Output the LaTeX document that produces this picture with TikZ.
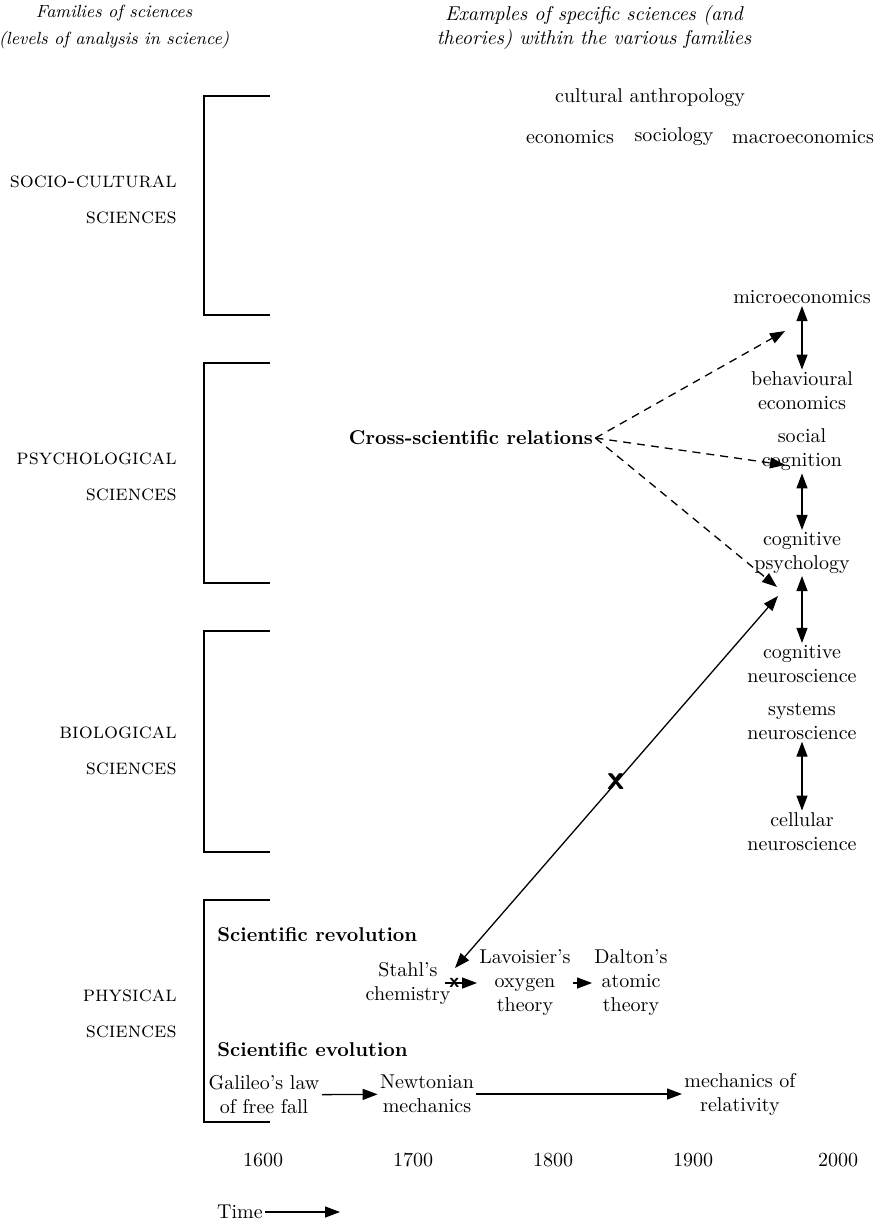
\documentclass[tikz,border=0pt]{standalone}
\usetikzlibrary{arrows.meta}
\begin{document}
\begin{tikzpicture}[x=0.5pt,y=-0.5pt,
  lbl/.style={align=center,inner sep=1pt},
  famname/.style={anchor=east,align=right,inner sep=0pt,font=\fontsize{11}{13}\selectfont},
  head/.style={align=center,font=\itshape},
  arr/.style={-{Triangle[length=7.5pt,width=5.5pt]},line width=0.65pt},
  dbl/.style={{Triangle[length=7.5pt,width=5.5pt]}-{Triangle[length=7.5pt,width=5.5pt]},line width=0.65pt},
  rel/.style={arr,dash pattern=on 4pt off 3pt},
  xmark/.style={font=\sffamily\bfseries\LARGE,inner sep=0pt},
  bracket/.style={line width=0.6pt}]
\useasboundingbox (0,0) rectangle (880,1228);

% headings
\node[head,font=\itshape\fontsize{8.8}{13.5}\selectfont] (hfam) at (114,27) {Families of sciences\\(levels of analysis in science)};
\node[head] (hex) at (594,27) {Examples of specific sciences (and\\theories) within the various families};

% families
\foreach \t/\b in {96/315, 363/583, 631/852, 900/1122}
  \draw[bracket] (270,\t) -- (204,\t) -- (204,\b) -- (270,\b);
\node[famname] (fsoc) at (177,200) {\textsc{socio-cultural}\\[5pt]\textsc{sciences}};
\node[famname] (fpsy) at (177,477) {\textsc{psychological}\\[5pt]\textsc{sciences}};
\node[famname] (fbio) at (177,751) {\textsc{biological}\\[5pt]\textsc{sciences}};
\node[famname] (fphy) at (177,1014) {\textsc{physical}\\[5pt]\textsc{sciences}};

% specific sciences
\node[lbl] (anthro) at (650,98) {cultural anthropology};
\node[lbl] (econ) at (570,137) {economics};
\node[lbl] (sociol) at (674,137) {sociology};
\node[lbl] (macro) at (803,137) {macroeconomics};
\node[lbl] (micro) at (802,297) {microeconomics};
\node[lbl] (behav) at (802,391) {behavioural\\economics};
\node[lbl] (soccog) at (802,450) {social\\cognition};
\node[lbl] (cogpsy) at (802,553) {cognitive\\psychology};
\node[lbl] (cogneuro) at (802,664) {cognitive\\neuroscience};
\node[lbl] (sysneuro) at (802,721) {systems\\neuroscience};
\node[lbl] (cellneuro) at (802,832) {cellular\\neuroscience};

\draw[dbl] (micro) -- (behav);
\draw[dbl] (soccog) -- (cogpsy);
\draw[dbl] (cogpsy) -- (cogneuro);
\draw[dbl] (sysneuro) -- (cellneuro);

% cross-scientific relations
\node[lbl,font=\bfseries] (crossrel) at (471,438) {Cross-scientific relations};
\coordinate (tmicro) at (785,331);
\coordinate (tsoc) at (785,465);
\coordinate (tpsy) at (777,587);
\draw[rel] (crossrel.east) -- (tmicro);
\draw[rel] (crossrel.east) -- (tsoc);
\draw[rel] (crossrel.east) -- (tpsy);

% revolution
\node[anchor=west,font=\bfseries,inner sep=0pt] (revol) at (217,935) {Scientific revolution};
\node[lbl] (stahl) at (408,983) {Stahl's\\chemistry};
\node[lbl] (lavo) at (525,983) {Lavoisier's\\oxygen\\theory};
\node[lbl] (dalton) at (631,983) {Dalton's\\atomic\\theory};
\draw[arr] ([xshift=-4pt]stahl.east) -- node[pos=0.3,xmark,font=\sffamily\bfseries] (xsmall) {x} (lavo.west);
\draw[arr] (lavo) -- (dalton);
\coordinate (tneuro) at (778,596);
\coordinate (tstahl) at (455,968);
\draw[dbl] (tneuro) -- node[pos=0.5,xmark] (xbig) {x} (tstahl);

% evolution
\node[anchor=west,font=\bfseries,inner sep=0pt] (evol) at (217,1050) {Scientific evolution};
\node[lbl] (galileo) at (264,1095) {Galileo's law\\of free fall};
\node[lbl] (newton) at (427,1094) {Newtonian\\mechanics};
\node[lbl] (relat) at (740,1094) {mechanics of\\relativity};
\draw[arr] (galileo) -- (newton);
\draw[arr] (newton) -- (relat);

% time axis
\node (y1600) at (263,1160) {1600};
\node (y1700) at (413,1160) {1700};
\node (y1800) at (553,1160) {1800};
\node (y1900) at (693,1160) {1900};
\node (y2000) at (838,1160) {2000};
\node[inner sep=1pt] (time) at (240,1212) {Time};
\coordinate (tend) at (340,1212);
\draw[arr] (time) -- (tend);
\end{tikzpicture}
\end{document}
